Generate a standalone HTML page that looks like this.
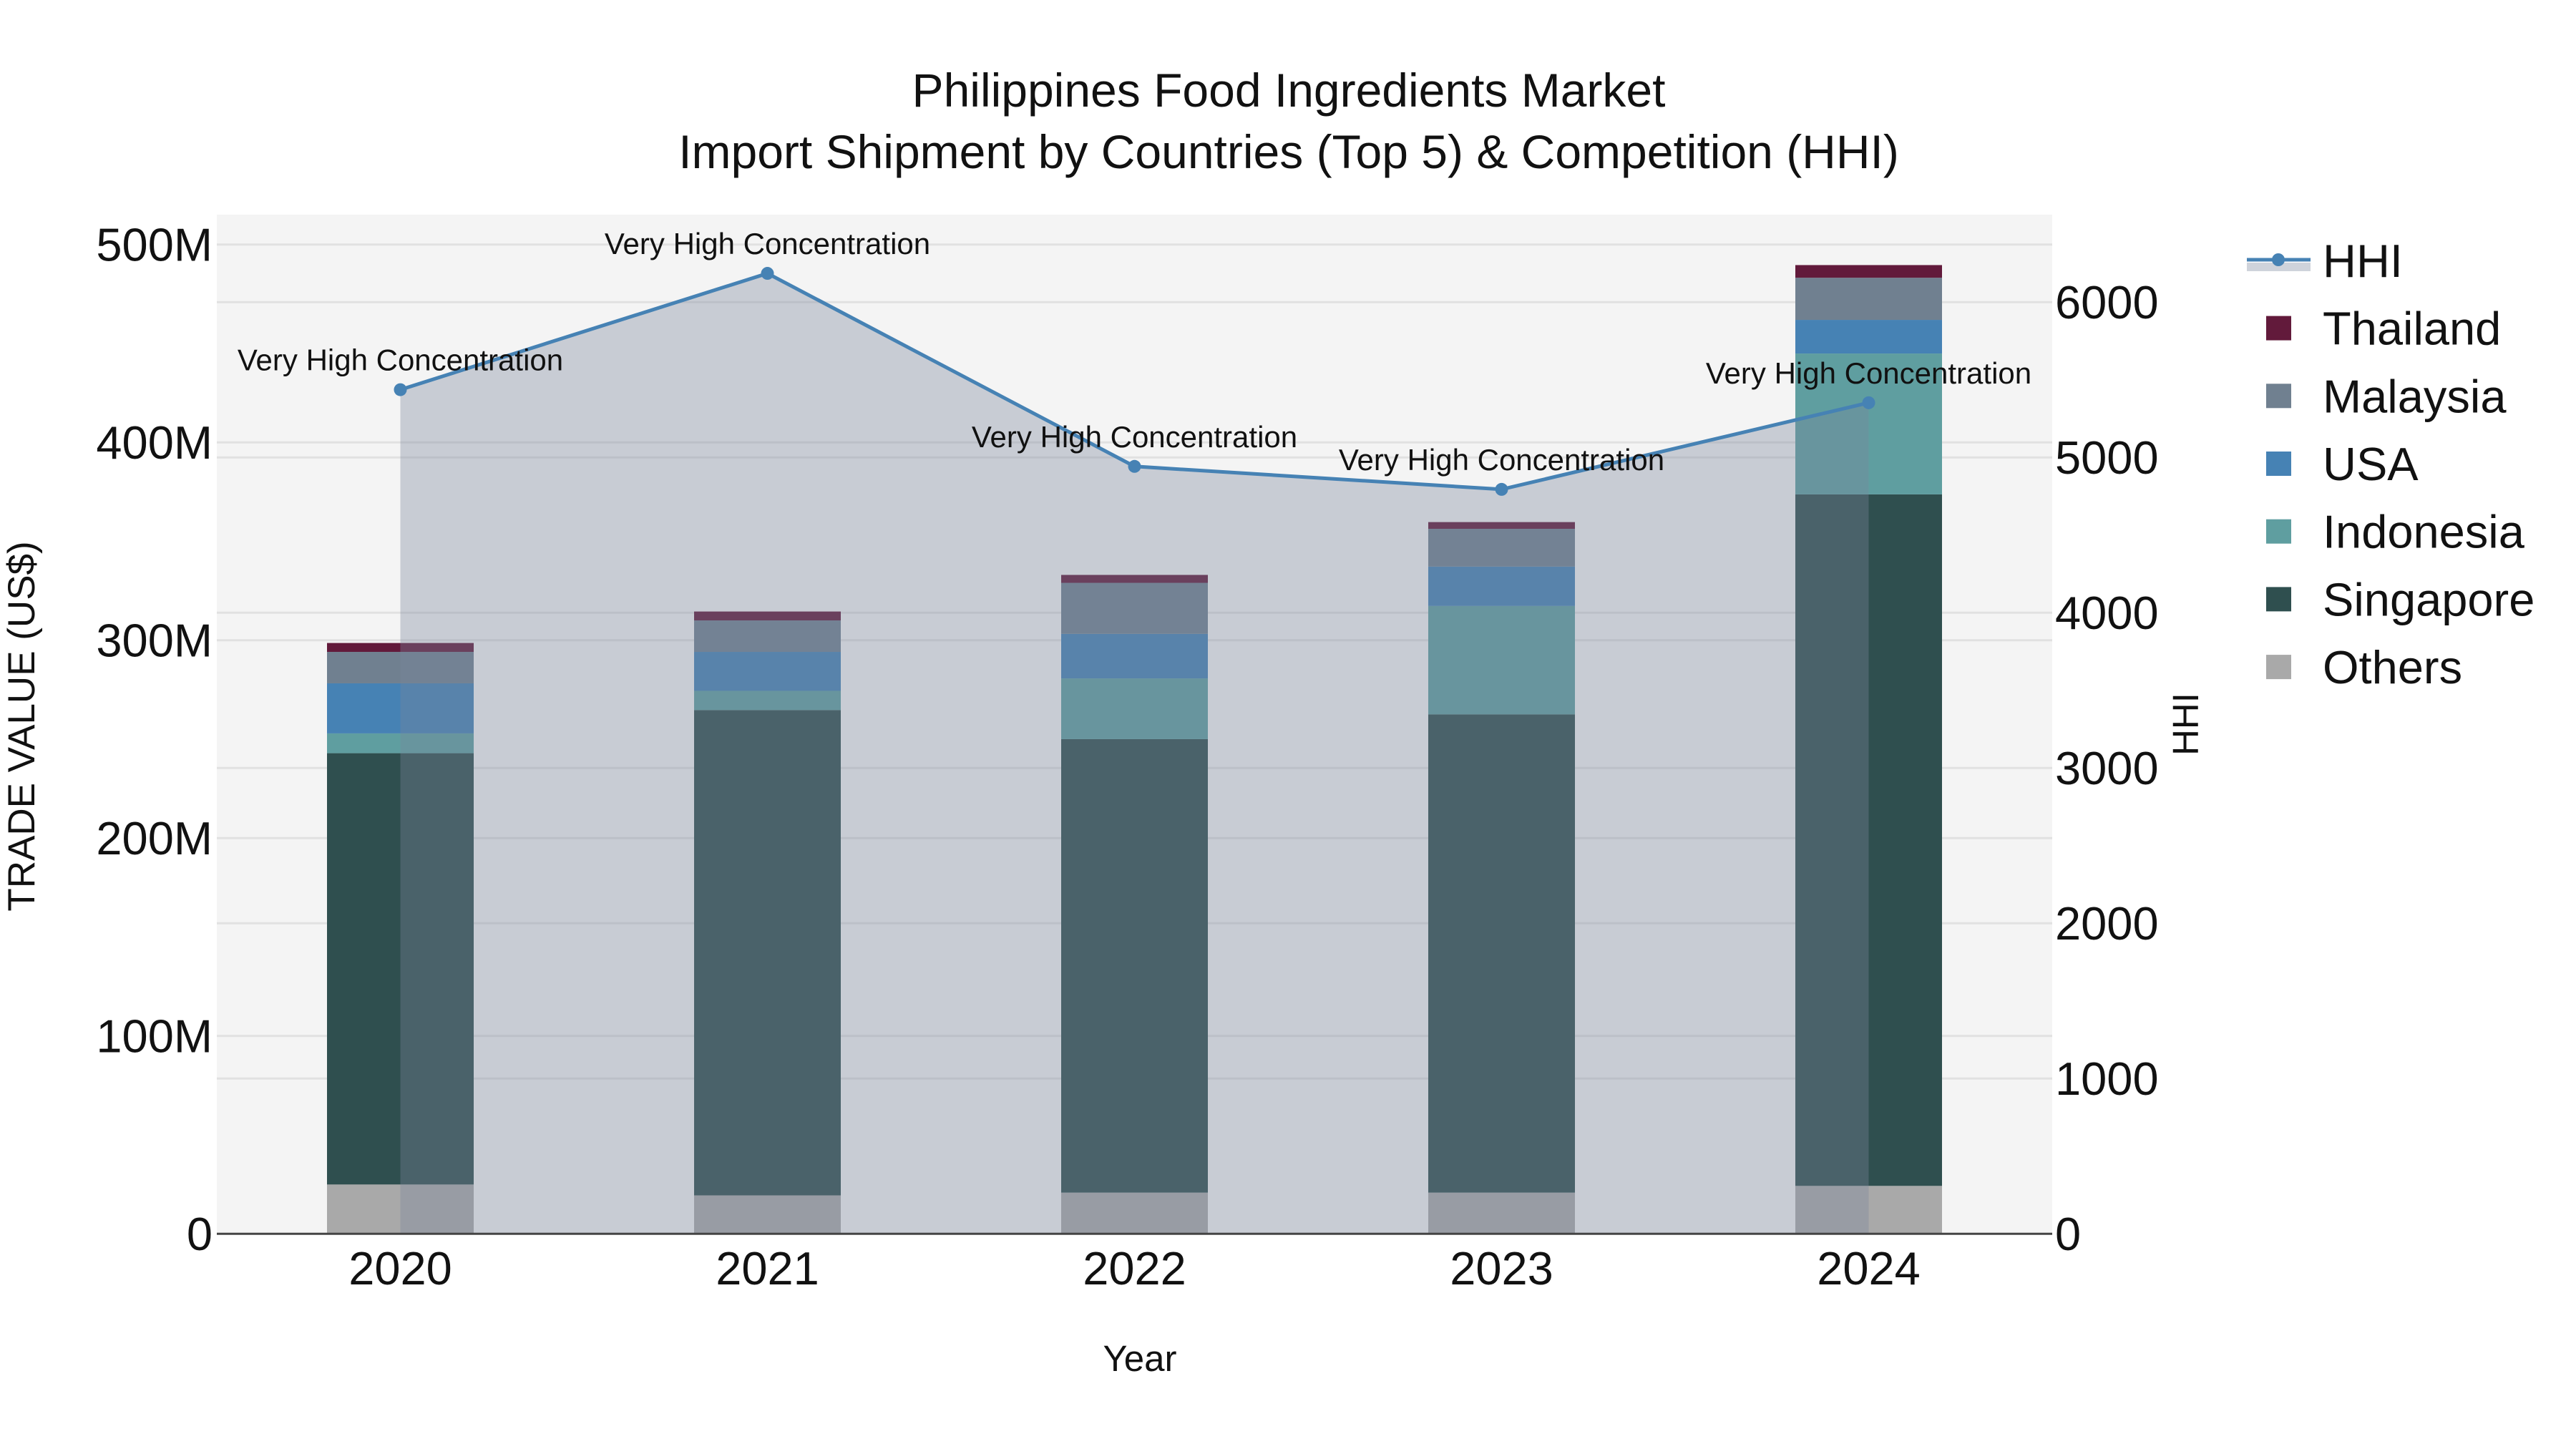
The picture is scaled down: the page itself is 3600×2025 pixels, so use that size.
<!DOCTYPE html>
<html><head><meta charset="utf-8"><style>
html,body{margin:0;padding:0;background:#fff}
svg{display:block;font-family:"Liberation Sans",Arial,sans-serif}
</style></head><body>
<svg id="chart" width="3600" height="2025" viewBox="0 0 3600 2025" xmlns="http://www.w3.org/2000/svg">
<rect x="0" y="0" width="3600" height="2025" fill="#fff"/>
<text x="1801" y="149" font-size="66" text-anchor="middle" fill="#111">Philippines Food Ingredients Market</text>
<text x="1801" y="235" font-size="66" text-anchor="middle" fill="#111">Import Shipment by Countries (Top 5) &amp; Competition (HHI)</text>
<rect x="303" y="300" width="2565" height="1424" fill="#f4f4f4"/>
<g id="grid"></g>
<g id="bars"></g>
<g id="area"></g>
<g id="axes"></g>
<g id="annots"></g>
<text transform="translate(48,1015) rotate(-90)" font-size="53" text-anchor="middle" fill="#111">TRADE VALUE (US$)</text>
<text transform="translate(3072,1012) rotate(-90)" font-size="51" text-anchor="middle" fill="#111">HHI</text>
<text x="1593" y="1916" font-size="51" text-anchor="middle" fill="#111">Year</text>
<g id="legend"></g>
</svg>
<script>
const years = ["2020","2021","2022","2023","2024"];
const others = [24.9, 19.4, 20.8, 20.8, 24.2];
const singapore = [218.0, 245.3, 229.2, 241.7, 349.5];
const indonesia = [10.0, 9.7, 30.7, 54.8, 71.2];
const usa = [25.3, 19.7, 22.5, 19.9, 17.0];
const malaysia = [15.9, 15.9, 25.8, 19.1, 21.3];
const thailand = [4.5, 4.5, 4.0, 3.4, 6.4];
const hhi = [5436, 6185, 4942, 4794, 5352];
const annotationLabels = ["Very High Concentration","Very High Concentration","Very High Concentration","Very High Concentration","Very High Concentration"];
const leftTicks = [0, 100, 200, 300, 400, 500];
const leftTickLabels = ["0","100M","200M","300M","400M","500M"];
const rightTicks = [0, 1000, 2000, 3000, 4000, 5000, 6000];

const NS = "http://www.w3.org/2000/svg";
const X0 = 303, X1 = 2868, Y0 = 1724.2;
const band = (X1 - X0) / years.length;
const xc = i => X0 + band * (i + 0.5);
const yL = v => Y0 - v * 2.765;   // millions
const yR = v => Y0 - v * 0.217;   // HHI
function mk(tag, attrs, parent){const e=document.createElementNS(NS,tag);for(const k in attrs)e.setAttribute(k,attrs[k]);parent.appendChild(e);return e;}

const grid = document.getElementById('grid');
leftTicks.forEach((t,i)=>{ if(t===0) return;
  const l = mk('line',{x1:X0,x2:X1,y1:yL(t),y2:yL(t),stroke:"#e1e1e1","stroke-width":3},grid);
  
  
});
rightTicks.forEach(t=>{ if(t===0) return;
  const l = mk('line',{x1:X0,x2:X1,y1:yR(t),y2:yR(t),stroke:"#e1e1e1","stroke-width":3},grid);
  
  
});

const series = [
  {name:"Others", vals:others, color:"#a9a9a9"},
  {name:"Singapore", vals:singapore, color:"#2f4f4f"},
  {name:"Indonesia", vals:indonesia, color:"#5f9ea0"},
  {name:"USA", vals:usa, color:"#4682b4"},
  {name:"Malaysia", vals:malaysia, color:"#708090"},
  {name:"Thailand", vals:thailand, color:"#621a3b"}
];
const bars = document.getElementById('bars');
const bw = 205;
years.forEach((y,i)=>{
  let base = 0;
  series.forEach(s=>{
    const v = s.vals[i];
    const r = mk('rect',{x:xc(i)-bw/2,y:yL(base+v),width:bw,height:yL(base)-yL(base+v),fill:s.color},bars);
    
    
    base += v;
  });
});

const area = document.getElementById('area');
let d = "M"+xc(0)+","+Y0;
hhi.forEach((v,i)=>{ d += " L"+xc(i)+","+yR(v); });
d += " L"+xc(hhi.length-1)+","+Y0+" Z";
const ar = mk('path',{d:d,fill:"rgba(122,132,156,0.36)"},area);


const ln = mk('polyline',{points:hhi.map((v,i)=>xc(i)+","+yR(v)).join(" "),fill:"none",stroke:"#4682b4","stroke-width":5},area);


hhi.forEach((v,i)=>{
  const c = mk('circle',{cx:xc(i),cy:yR(v),r:9,fill:"#4682b4"},area);
  
  
});

const axes = document.getElementById('axes');
const axl = mk('line',{x1:X0,x2:X1,y1:Y0,y2:Y0,stroke:"#444","stroke-width":3},axes);


leftTicks.forEach((t,i)=>{
  const tx = mk('text',{x:297,y:yL(t)+23,"font-size":65,"text-anchor":"end",fill:"#111"},axes);
  tx.textContent = leftTickLabels[i];
  
  
});
rightTicks.forEach(t=>{
  const tx = mk('text',{x:2872,y:yR(t)+23,"font-size":65,"text-anchor":"start",fill:"#111"},axes);
  tx.textContent = String(t);
  
  
});
years.forEach((y,i)=>{
  const tx = mk('text',{x:xc(i),y:1795,"font-size":65,"text-anchor":"middle",fill:"#111"},axes);
  tx.textContent = y;
  
  
});

const annots = document.getElementById('annots');
hhi.forEach((v,i)=>{
  const tx = mk('text',{x:xc(i),y:yR(v)-27,"font-size":42,"text-anchor":"middle",fill:"#111"},annots);
  tx.textContent = annotationLabels[i];
  
  
});

const legend = document.getElementById('legend');
const lg = mk('g',{},legend);


mk('rect',{x:3140,y:367,width:89,height:12,fill:"rgba(122,132,156,0.36)"},lg);
mk('line',{x1:3140,x2:3229,y1:363,y2:363,stroke:"#4682b4","stroke-width":5},lg);
mk('circle',{cx:3184,cy:363,r:9,fill:"#4682b4"},lg);
const ht = mk('text',{x:3246,y:387,"font-size":65,fill:"#111"},lg);
ht.textContent = "HHI";
const legOrder = ["Thailand","Malaysia","USA","Indonesia","Singapore","Others"];
legOrder.forEach((n,k)=>{
  const s = series.find(q=>q.name===n);
  const cy = 458.6 + k*94.7;
  const g = mk('g',{},legend);
  
  
  mk('rect',{x:3167,y:cy-17,width:35,height:34,fill:s.color},g);
  const t = mk('text',{x:3246,y:cy+23,"font-size":65,fill:"#111"},g);
  t.textContent = n;
});
</script>
</body></html>
